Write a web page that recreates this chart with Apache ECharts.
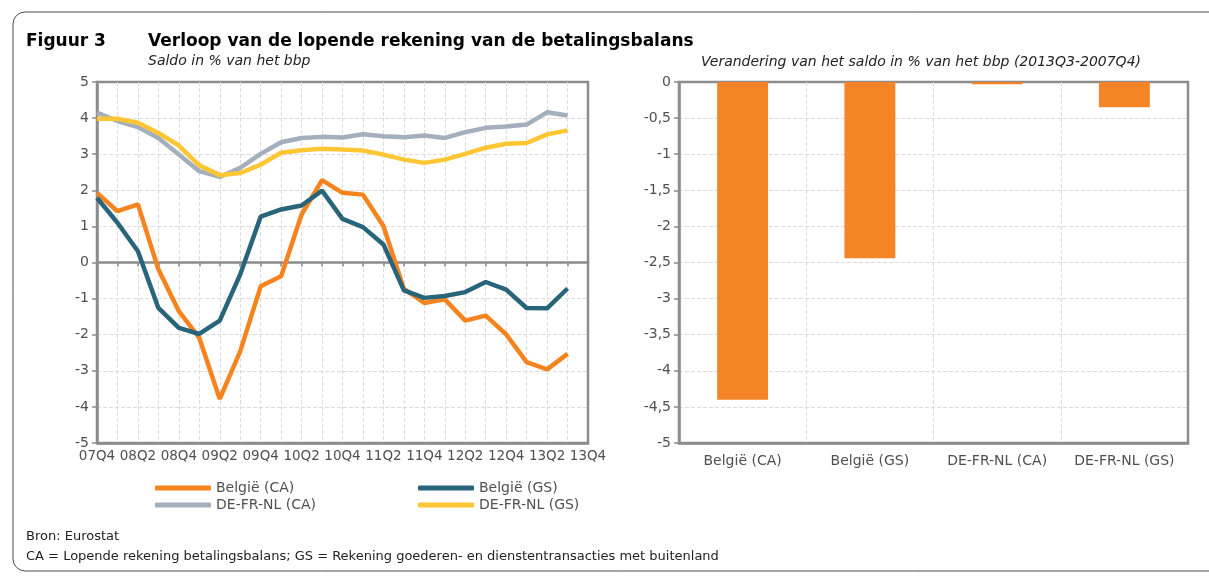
<!DOCTYPE html>
<html>
<head>
<meta charset="utf-8">
<script src="https://cdn.jsdelivr.net/npm/echarts@6/dist/echarts.min.js"></script>
<style>
  html, body { margin: 0; padding: 0; background: #fff; }
  #main { width: 1209px; height: 579px; }
</style>
</head>
<body>
<div id="main"></div>
<script>
// kwartalen 07Q4 .. 13Q4
var kwartalen = ['07Q4','08Q1','08Q2','08Q3','08Q4','09Q1','09Q2','09Q3','09Q4','10Q1','10Q2','10Q3','10Q4',
    '11Q1','11Q2','11Q3','11Q4','12Q1','12Q2','12Q3','12Q4','13Q1','13Q2','13Q3','13Q4'];
var belgieCA = [1.93, 1.42, 1.61, -0.19, -1.35, -2.09, -3.78, -2.46, -0.66, -0.38, 1.33, 2.28, 1.93,
    1.88, 1.01, -0.73, -1.12, -1.02, -1.61, -1.47, -1.99, -2.76, -2.96, -2.53, null];
var belgieGS = [1.79, 1.10, 0.31, -1.26, -1.81, -1.98, -1.61, -0.33, 1.27, 1.47, 1.58, 1.99, 1.21,
    0.98, 0.50, -0.77, -0.98, -0.93, -0.82, -0.54, -0.75, -1.26, -1.27, -0.72, null];
var dfnCA = [4.15, 3.92, 3.75, 3.45, 2.99, 2.53, 2.37, 2.62, 3.01, 3.33, 3.45, 3.48, 3.46,
    3.55, 3.50, 3.47, 3.52, 3.45, 3.61, 3.73, 3.77, 3.82, 4.16, 4.07, null];
var dfnGS = [3.98, 3.98, 3.87, 3.59, 3.24, 2.69, 2.42, 2.48, 2.71, 3.04, 3.11, 3.15, 3.13,
    3.10, 2.99, 2.85, 2.76, 2.85, 3.01, 3.18, 3.29, 3.31, 3.55, 3.66, null];

// verandering 2013Q3 - 2007Q4
var reeksen = ['België (CA)', 'België (GS)', 'DE-FR-NL (CA)', 'DE-FR-NL (GS)'];
var verandering = [-4.4, -2.44, -0.03, -0.35];

var kleuren = ['#F5841F', '#28657A', '#A3AFBC', '#FFC633'];
var font = 'DejaVu Sans';
var asKleur = '#8c8c8c';
var tekst = '#505050';
var raster = {show: true, showMinLine: false, showMaxLine: false, lineStyle: {color: '#dcdcdc', type: 'dashed'}};

var myChart = echarts.init(document.getElementById('main'));

function legende(naam, x, y) {
    return {
        left: x, top: y, data: [naam],
        icon: 'roundRect', itemWidth: 56, itemHeight: 5, itemGap: 0,
        textStyle: {fontFamily: font, fontSize: 14, color: tekst},
        selectedMode: false
    };
}

option = {
    animation: false,
    textStyle: {fontFamily: font},
    grid: [
        {left: 97, right: 621, top: 82, bottom: 136, show: true, borderColor: asKleur, borderWidth: 2.5},
        {left: 679, right: 21, top: 82, bottom: 136, show: true, borderColor: asKleur, borderWidth: 2.5}
    ],
    legend: [
        legende(reeksen[0], 150, 476),
        legende(reeksen[1], 413, 476),
        legende(reeksen[2], 150, 493),
        legende(reeksen[3], 413, 493)
    ],
    xAxis: [
        {
            gridIndex: 0, type: 'category', data: kwartalen, boundaryGap: false, position: 'bottom',
            axisLine: {onZero: false, lineStyle: {color: asKleur, width: 2.5}},
            axisTick: {show: false},
            axisLabel: {interval: 1, color: tekst, fontSize: 13.5, margin: 6, fontFamily: font},
            splitLine: Object.assign({interval: 0}, raster)
        },
        {
            gridIndex: 0, type: 'category', data: kwartalen, boundaryGap: false, position: 'bottom',
            axisLine: {onZero: true, lineStyle: {color: asKleur, width: 2.5}},
            axisTick: {show: true, interval: 0, length: 4, lineStyle: {color: asKleur, width: 1.5}},
            axisLabel: {show: false},
            splitLine: {show: false}
        },
        {
            gridIndex: 1, type: 'category', data: reeksen, position: 'bottom',
            axisLine: {onZero: false, lineStyle: {color: asKleur, width: 2.5}},
            axisTick: {show: false},
            axisLabel: {interval: 0, color: tekst, fontSize: 14, margin: 11, fontFamily: font},
            splitLine: Object.assign({interval: 0}, raster)
        }
    ],
    yAxis: [
        {
            gridIndex: 0, type: 'value', min: -5, max: 5, interval: 1,
            axisLine: {show: true, lineStyle: {color: asKleur, width: 2.5}},
            axisTick: {show: true, length: 5, lineStyle: {color: asKleur, width: 1.5}},
            axisLabel: {color: tekst, fontSize: 14, margin: 8, fontFamily: font},
            splitLine: raster
        },
        {
            gridIndex: 1, type: 'value', min: -5, max: 0, interval: 0.5,
            axisLine: {show: true, lineStyle: {color: asKleur, width: 2.5}},
            axisTick: {show: true, length: 5, lineStyle: {color: asKleur, width: 1.5}},
            axisLabel: {color: tekst, fontSize: 14, margin: 8, fontFamily: font,
                formatter: function (v) { return String(v).replace('.', ','); }},
            splitLine: raster
        }
    ],
    series: [
        {name: reeksen[0], type: 'line', xAxisIndex: 0, yAxisIndex: 0, data: belgieCA, symbol: 'none',
            itemStyle: {color: kleuren[0]}, lineStyle: {width: 4.5, color: kleuren[0]}},
        {name: reeksen[1], type: 'line', xAxisIndex: 0, yAxisIndex: 0, data: belgieGS, symbol: 'none',
            itemStyle: {color: kleuren[1]}, lineStyle: {width: 4.5, color: kleuren[1]}},
        {name: reeksen[2], type: 'line', xAxisIndex: 0, yAxisIndex: 0, data: dfnCA, symbol: 'none',
            itemStyle: {color: kleuren[2]}, lineStyle: {width: 4.5, color: kleuren[2]}},
        {name: reeksen[3], type: 'line', xAxisIndex: 0, yAxisIndex: 0, data: dfnGS, symbol: 'none',
            itemStyle: {color: kleuren[3]}, lineStyle: {width: 4.5, color: kleuren[3]}},
        {name: 'verandering', type: 'bar', xAxisIndex: 2, yAxisIndex: 1, data: verandering,
            barWidth: '40%', itemStyle: {color: '#F58426'}}
    ],
    graphic: [
        {type: 'rect', silent: true, z: -1,
            shape: {x: 13, y: 12, width: 1240, height: 559, r: 12},
            style: {fill: 'none', stroke: '#4a4a4a', lineWidth: 1}},
        {type: 'text', left: 26, top: 33,
            style: {text: 'Figuur 3', font: 'bold 17px "DejaVu Sans"', fill: '#000'}},
        {type: 'text', left: 148, top: 33,
            style: {text: 'Verloop van de lopende rekening van de betalingsbalans', font: 'bold 17px "DejaVu Sans"', fill: '#000'}},
        {type: 'text', left: 148, top: 54,
            style: {text: 'Saldo in % van het bbp', font: 'italic 14px "DejaVu Sans"', fill: '#222'}},
        {type: 'text', x: 921, y: 62,
            style: {text: 'Verandering van het saldo in % van het bbp (2013Q3-2007Q4)', font: 'italic 14px "DejaVu Sans"',
                fill: '#222', textAlign: 'center', textVerticalAlign: 'middle'}},
        {type: 'text', left: 26, top: 530,
            style: {text: 'Bron: Eurostat', font: '13px "DejaVu Sans"', fill: '#222'}},
        {type: 'text', left: 26, top: 550,
            style: {text: 'CA = Lopende rekening betalingsbalans; GS = Rekening goederen- en dienstentransacties met buitenland',
                font: '13px "DejaVu Sans"', fill: '#222'}}
    ]
};
myChart.setOption(option);
</script>
</body>
</html>
